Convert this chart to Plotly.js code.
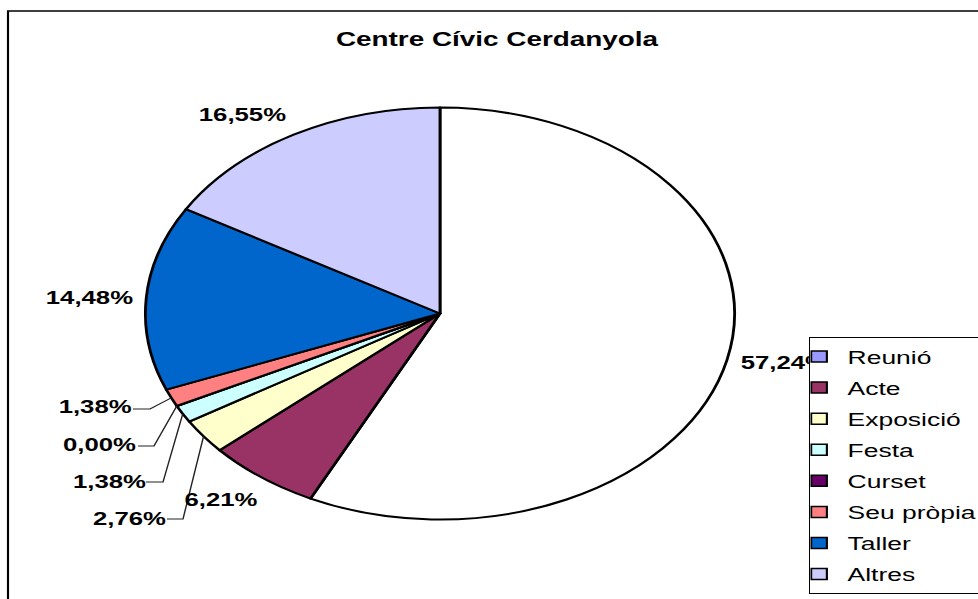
<!DOCTYPE html>
<html>
<head>
<meta charset="utf-8">
<script src="https://cdn.plot.ly/plotly-3.0.1.min.js"></script>
<style>
html, body { margin: 0; padding: 0; overflow: hidden; background: #fff; width: 978px; height: 599px; }
#chart { width: 700px; height: 599px; transform: scaleX(1.43); transform-origin: 0 0; }
</style>
</head>
<body>
<div id="chart"></div>
<script>
// ---- data ----
const chartTitle = 'Centre Cívic Cerdanyola';
const categories = ['Reunió', 'Acte', 'Exposició', 'Festa', 'Curset', 'Seu pròpia', 'Taller', 'Altres'];
const percentages = [57.24, 6.21, 2.76, 1.38, 0.00, 1.38, 14.48, 16.55];
const legendColors = ['#9999FF', '#993366', '#FFFFCC', '#CCFFFF', '#660066', '#FF8080', '#0066CC', '#CCCCFF'];
const sliceColors = ['#FFFFFF', '#993366', '#FFFFCC', '#CCFFFF', '#660066', '#FF8080', '#0066CC', '#CCCCFF'];

// ---- layout helpers (reference pixel space is horizontally stretched by SX) ----
const SX = 1.43, W = 700, H = 599;
const FONT = 'Arial, "Liberation Sans", sans-serif';
const fx = xr => xr / SX / W;
const fy = yr => 1 - yr / H;
const CXR = 440, CY = 313.5, R = 206;          // pie centre (reference px) and radius
const cxP = CXR / SX;
const LEG_X = 809;                             // legend box left edge (reference px)

const fmt = v => v.toFixed(2).replace('.', ',') + '%';

// label placement (reference px): centre x, centre y
const labelPos = [[738, 363], [220.5, 499.5], [129, 518.5], [109, 481.5], [100, 445], [95, 407.5], [89, 298], [242.5, 114.5]];
// leader lines: [text end x, y, elbow x] for the small slices
const leaders = { 2: [167, 519, 183], 3: [146, 482, 163], 4: [138, 446, 154], 5: [133, 409, 150] };

const total = percentages.reduce((a, b) => a + b, 0);
let cum = 0;
const midFrac = percentages.map(v => { const m = (cum + v / 2) / total; cum += v; return m; });
function edgePoint(i) {
  const th = 2 * Math.PI * midFrac[i];
  return [(cxP + R * Math.sin(th)) / W, 1 - (CY - R * Math.cos(th)) / H];
}

const pie = {
  type: 'pie',
  labels: categories,
  values: percentages,
  sort: false,
  direction: 'clockwise',
  rotation: 0,
  textinfo: 'none',
  hoverinfo: 'skip',
  showlegend: false,
  marker: { colors: sliceColors, line: { color: '#000000', width: 2 } },
  domain: { x: [(cxP - R) / W, (cxP + R) / W], y: [1 - (CY + R) / H, 1 - (CY - R) / H] }
};

const legendTraces = categories.map((c, i) => ({
  type: 'scatter', mode: 'markers', x: [null], y: [null],
  name: c, legendgroup: 'g' + i, showlegend: true, hoverinfo: 'skip',
  marker: { symbol: 'square', size: 11, color: legendColors[i], line: { color: '#000000', width: 1.5 } }
}));

const annotations = percentages.map((v, i) => {
  const a = {
    text: fmt(v), xref: 'paper', yref: 'paper', x: fx(labelPos[i][0]), y: fy(labelPos[i][1]),
    xanchor: 'center', yanchor: 'middle', showarrow: false,
    font: { family: FONT, size: 18, color: '#000000', weight: 'bold' }
  };
  if (i === 0) { a.xanchor = 'left'; a.align = 'left'; a.width = (LEG_X - 738) / SX - 2; }
  return a;
});

const shapes = [{
  type: 'rect', xref: 'paper', yref: 'paper', x0: fx(8), y0: fy(11), x1: 1.3, y1: -0.3,
  line: { color: '#000000', width: 1.5 }, fillcolor: 'rgba(0,0,0,0)', layer: 'below'
}];
Object.keys(leaders).forEach(k => {
  const [tx, ty, ex] = leaders[k];
  const [px, py] = edgePoint(+k);
  shapes.push({
    type: 'path', xref: 'paper', yref: 'paper',
    path: `M ${fx(tx)} ${fy(ty)} L ${fx(ex)} ${fy(ty)} L ${px} ${py}`,
    line: { color: '#222222', width: 1 }
  });
});

const layout = {
  width: W, height: H,
  margin: { l: 0, r: 0, t: 0, b: 0, autoexpand: false },
  paper_bgcolor: '#ffffff', plot_bgcolor: '#ffffff',
  title: {
    text: chartTitle, xref: 'container', yref: 'container', x: fx(497), y: fy(39),
    xanchor: 'center', yanchor: 'middle',
    font: { family: FONT, size: 19.5, color: '#000000', weight: 'bold' }
  },
  xaxis: { visible: false }, yaxis: { visible: false },
  showlegend: true,
  legend: {
    x: fx(LEG_X), y: fy(337), xanchor: 'left', yanchor: 'top',
    bgcolor: '#ffffff', bordercolor: '#000000', borderwidth: 1,
    font: { family: FONT, size: 18.5, color: '#000000' },
    tracegroupgap: 4.02, indentation: -14, traceorder: 'grouped'
  },
  annotations: annotations,
  shapes: shapes
};

Plotly.newPlot('chart', [pie].concat(legendTraces), layout, { staticPlot: true, displayModeBar: false });
</script>
</body>
</html>
